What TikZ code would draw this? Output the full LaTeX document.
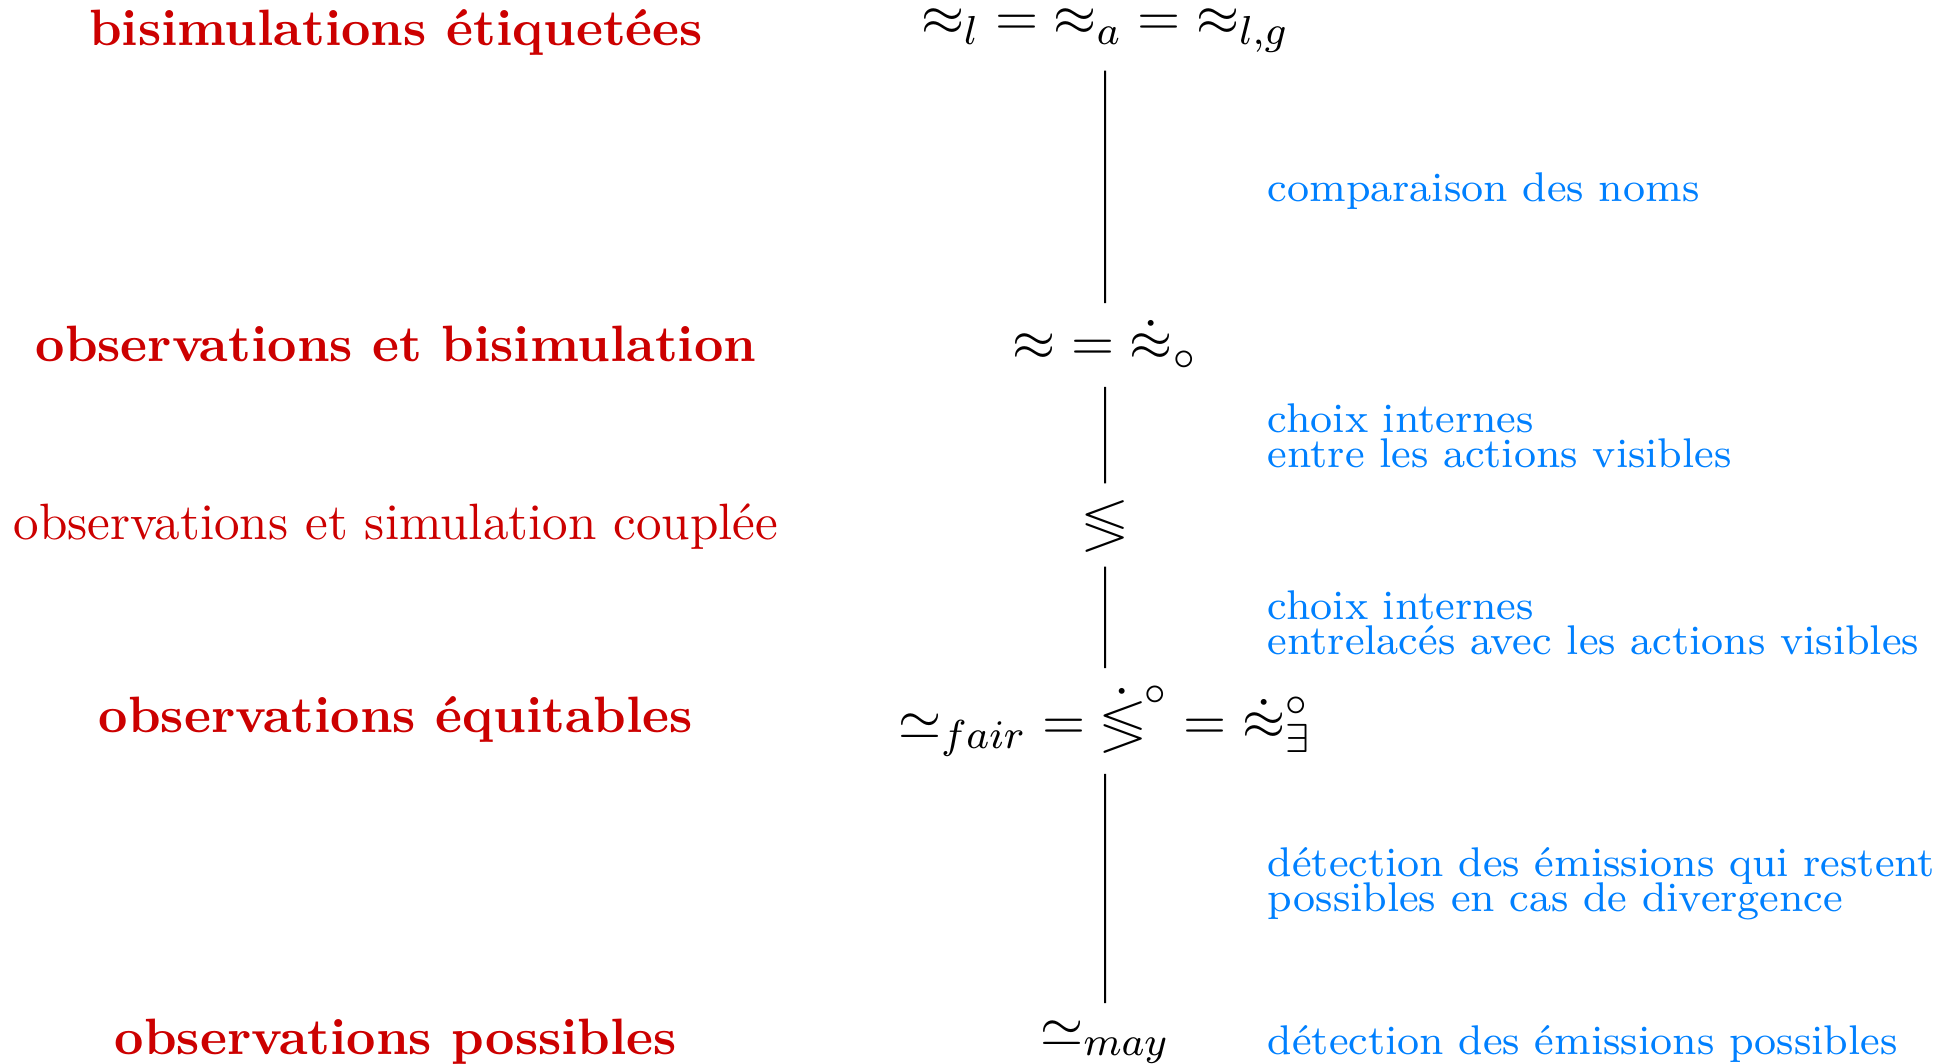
\documentclass[tikz,border=0pt]{standalone}
\usepackage{amssymb}
\definecolor{labred}{RGB}{204,0,0}
\definecolor{noteblue}{RGB}{0,128,255}
\newcommand{\myNoteFont}{\fontsize{8.2}{6.9}\selectfont\lineskiplimit=-100pt\relax\lineskip=0pt\relax}
\begin{document}
\begin{tikzpicture}[x=0.5pt,y=-0.5pt,
  every node/.style={scale=2.53},
  lvl/.style={text=labred, font=\fontsize{10.1}{12}\selectfont\bfseries},
  lvlplain/.style={text=labred, font=\fontsize{10.1}{12}\selectfont},
  rel/.style={font=\fontsize{11}{13}\selectfont},
  note/.style={text=noteblue, anchor=base west, align=left, font=\myNoteFont},
  link/.style={draw=black, line width=1pt}]
\useasboundingbox (0,0) rectangle (1957,1064);

\node[lvl] (l1) at (396,32) {bisimulations étiquetées};
\node[lvl] (l2) at (396,344) {observations et bisimulation};
\node[lvlplain] (l3) at (396,527) {observations et simulation couplée};
\node[lvl] (l4) at (396,719) {observations équitables};
\node[lvl] (l5) at (396,1042) {observations possibles};

\node[rel] (m1) at (1105,31) {${\approx}_l = {\approx}_a = {\approx}_{l,g}$};
\node[rel] (m2) at (1105,345) {${\approx} = \dot{\approx}_{\circ}$};
\node[rel] (m3) at (1105,525) {$\lessgtr$};
\node[rel] (m4) at (1105,721) {${\simeq}_{fair} = \dot{\lessgtr}^{\circ} = \dot{\approx}^{\circ}_{\exists}$};
\node[rel] (m5) at (1105,1042) {${\simeq}_{may}$};

\draw[link] (m1) -- (m2);
\draw[link] (m2) -- (m3);
\draw[link] (m3) -- (m4);
\draw[link] (m4) -- (m5);

\node[note] (n1) at (1250,202) {comparaison des noms};
\node[note] (n2) at (1250,467) {choix internes\\entre les actions visibles};
\node[note] (n3) at (1250,654) {choix internes\\entrelacés avec les actions visibles};
\node[note] (n4) at (1250,911) {détection des émissions qui restent\\possibles en cas de divergence};
\node[note] (n5) at (1250,1054) {détection des émissions possibles};
\end{tikzpicture}
\end{document}
